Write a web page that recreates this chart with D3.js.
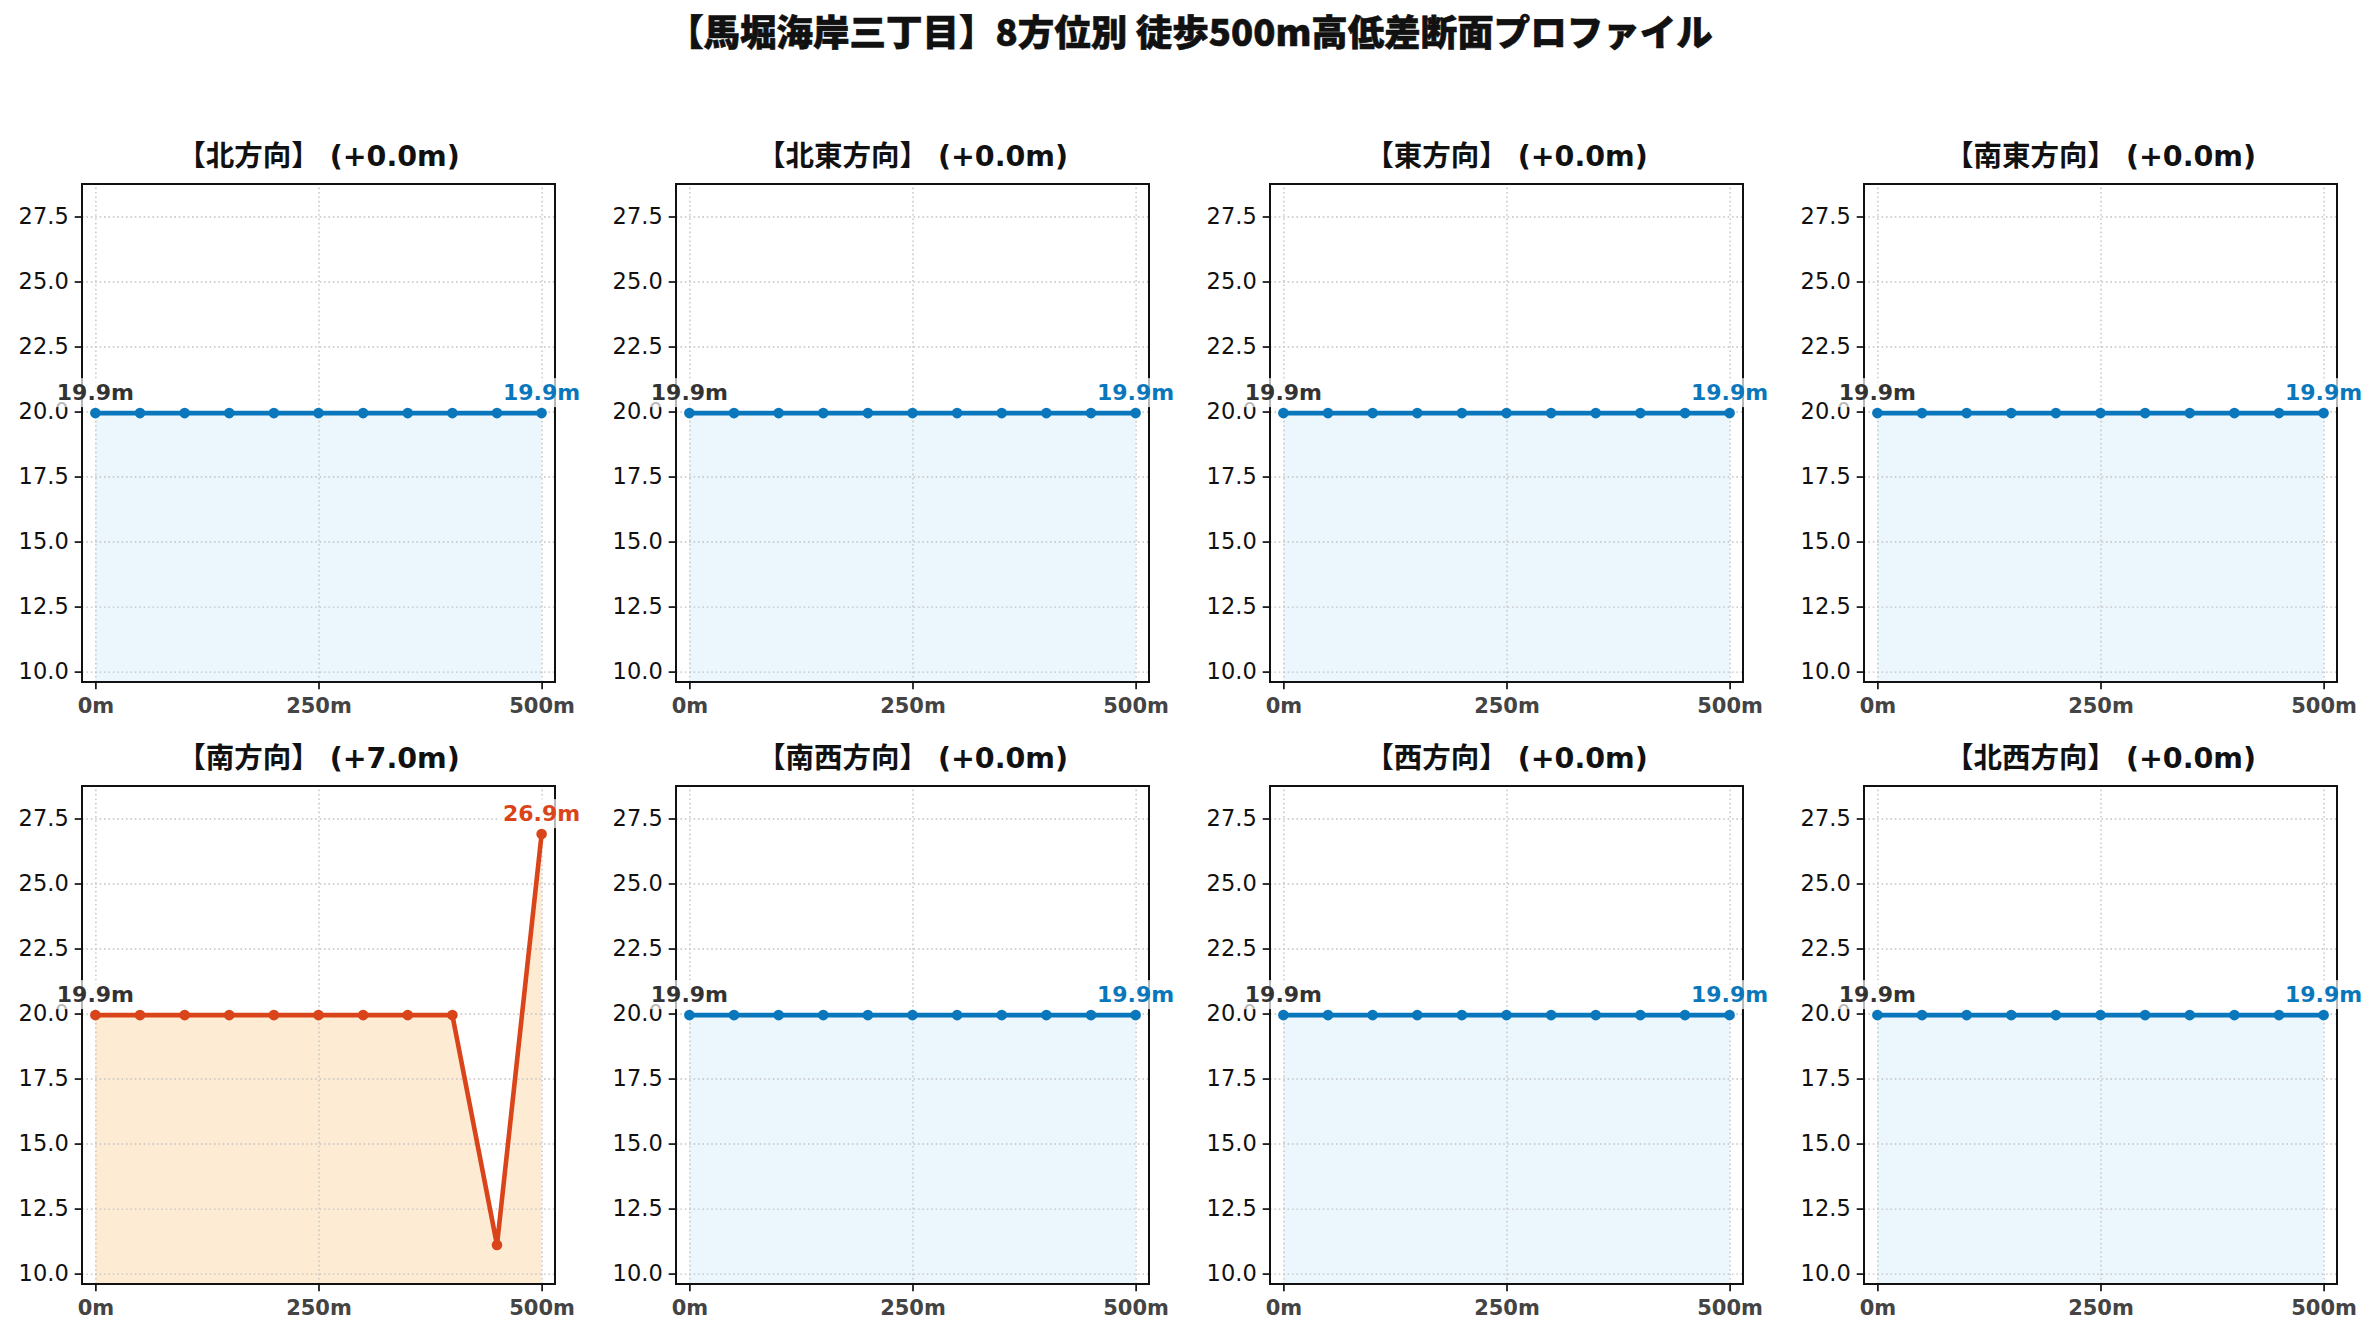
<!DOCTYPE html>
<html><head><meta charset="utf-8">
<script src="https://cdn.jsdelivr.net/npm/d3@7"></script>
<style>
body{margin:0;background:#fff;}
svg{display:block;}
</style></head>
<body><svg id="c" width="2380" height="1340"></svg>
<script>
// ---- data ----
const chartTitle = "【馬堀海岸三丁目】8方位別 徒歩500m高低差断面プロファイル";
const directions = ["北方向","北東方向","東方向","南東方向","南方向","南西方向","西方向","北西方向"];
const distances = [0,50,100,150,200,250,300,350,400,450,500];
const elevN  = [19.94,19.94,19.94,19.94,19.94,19.94,19.94,19.94,19.94,19.94,19.94];
const elevNE = [19.94,19.94,19.94,19.94,19.94,19.94,19.94,19.94,19.94,19.94,19.94];
const elevE  = [19.94,19.94,19.94,19.94,19.94,19.94,19.94,19.94,19.94,19.94,19.94];
const elevSE = [19.94,19.94,19.94,19.94,19.94,19.94,19.94,19.94,19.94,19.94,19.94];
const elevS  = [19.94,19.94,19.94,19.94,19.94,19.94,19.94,19.94,19.94,11.1,26.9];
const elevSW = [19.94,19.94,19.94,19.94,19.94,19.94,19.94,19.94,19.94,19.94,19.94];
const elevW  = [19.94,19.94,19.94,19.94,19.94,19.94,19.94,19.94,19.94,19.94,19.94];
const elevNW = [19.94,19.94,19.94,19.94,19.94,19.94,19.94,19.94,19.94,19.94,19.94];
const series = [elevN,elevNE,elevE,elevSE,elevS,elevSW,elevW,elevNW];
const yTicks = [10,12.5,15,17.5,20,22.5,25,27.5];
const xTicks = [0,250,500];
const xTickLabels = ["0m","250m","500m"];

// ---- layout / style ----
const svg = d3.select("#c");
const axLeft0 = 82, colStep = 594, axW = 473, axTop0 = 184, rowStep = 602, axH = 498;
const blue = "#0a77bc", blueFill = "#ebf7fc";
const orange = "#d9441a", orangeFill = "#feebd3";
const yDomain = [9.6, 28.75], xDomain = [-15, 515];

svg.append("text")
  .attr("x", 1190).attr("y", 46)
  .attr("text-anchor","middle")
  .attr("font-family","'Noto Sans CJK JP', sans-serif")
  .attr("font-weight","900").attr("font-size",36.5).attr("fill","#111")
  .attr("stroke","#111").attr("stroke-width",0.6)
  .text(chartTitle);

series.forEach((vals, i) => {
  const col = i % 4, row = Math.floor(i / 4);
  const g = svg.append("g").attr("transform",`translate(${axLeft0+col*colStep},${axTop0+row*rowStep})`);
  const x = d3.scaleLinear().domain(xDomain).range([0, axW]);
  const y = d3.scaleLinear().domain(yDomain).range([axH, 0]);
  const pts = distances.map((d,k)=>({d, v: vals[k]}));
  const start = vals[0], end = vals[vals.length-1];
  const delta = end - start;
  const big = Math.abs(delta) >= 3;
  const lc = big ? orange : blue, fc = big ? orangeFill : blueFill;

  // fill
  g.append("path").datum(pts)
    .attr("d", d3.area().x(p=>x(p.d)).y0(y(yDomain[0])).y1(p=>y(p.v)))
    .attr("fill", fc);

  // grid
  const gy = g.append("g").call(d3.axisLeft(y).tickValues(yTicks).tickSize(-axW).tickFormat(""));
  const gx = g.append("g").attr("transform",`translate(0,${axH})`)
    .call(d3.axisBottom(x).tickValues(xTicks).tickSize(-axH).tickFormat(""));
  [gy,gx].forEach(a=>{
    a.select(".domain").remove();
    a.selectAll("line").attr("stroke","#c4c4c4").attr("stroke-width",1.4).attr("stroke-dasharray","1.6,2.8");
  });

  // line + markers
  g.append("path").datum(pts)
    .attr("d", d3.line().x(p=>x(p.d)).y(p=>y(p.v)))
    .attr("fill","none").attr("stroke",lc).attr("stroke-width",4.6).attr("stroke-linejoin","round");
  g.selectAll("circle.m").data(pts).enter().append("circle")
    .attr("cx",p=>x(p.d)).attr("cy",p=>y(p.v)).attr("r",5.3).attr("fill",lc);

  // spines
  g.append("rect").attr("x",0).attr("y",0).attr("width",axW).attr("height",axH)
    .attr("fill","none").attr("stroke","#111").attr("stroke-width",2);

  // axes
  const ay = g.append("g").call(d3.axisLeft(y).tickValues(yTicks).tickFormat(d3.format(".1f")).tickSize(7.3).tickPadding(6));
  ay.select(".domain").remove();
  ay.selectAll("line").attr("stroke","#111").attr("stroke-width",1.7);
  ay.selectAll("text").attr("font-family","'DejaVu Sans', sans-serif").attr("font-size",22.5).attr("fill","#111");
  const ax = g.append("g").attr("transform",`translate(0,${axH})`)
    .call(d3.axisBottom(x).tickValues(xTicks).tickFormat((d,k)=>xTickLabels[k]).tickSize(7.3).tickPadding(9));
  ax.select(".domain").remove();
  ax.selectAll("line").attr("stroke","#111").attr("stroke-width",1.7);
  ax.selectAll("text").attr("font-family","'DejaVu Sans', sans-serif").attr("font-size",21)
    .attr("font-weight","bold").attr("fill","#444");

  // value labels
  function label(p, color){
    const lg = g.append("g");
    const t = lg.append("text").attr("x",x(p.d)).attr("y",y(p.v)-13)
      .attr("text-anchor","middle").attr("font-family","'DejaVu Sans', sans-serif")
      .attr("font-size",22).attr("font-weight","bold").attr("fill",color)
      .text(p.v.toFixed(1)+"m");
    const bb = t.node().getBBox();
    lg.insert("rect","text").attr("x",bb.x-3).attr("y",bb.y-2).attr("width",bb.width+6).attr("height",bb.height+4)
      .attr("fill","#fff").attr("fill-opacity",0.7);
  }
  label(pts[0], "#333");
  label(pts[pts.length-1], lc);

  // panel title
  g.append("text").attr("x",axW/2).attr("y",-18).attr("text-anchor","middle")
    .attr("font-family","'DejaVu Sans', 'Noto Sans CJK JP', sans-serif")
    .attr("font-size",28.5).attr("font-weight","bold").attr("fill","#111")
    .text(`【${directions[i]}】 (${d3.format("+.1f")(delta)}m)`);
});
</script>
</body></html>
